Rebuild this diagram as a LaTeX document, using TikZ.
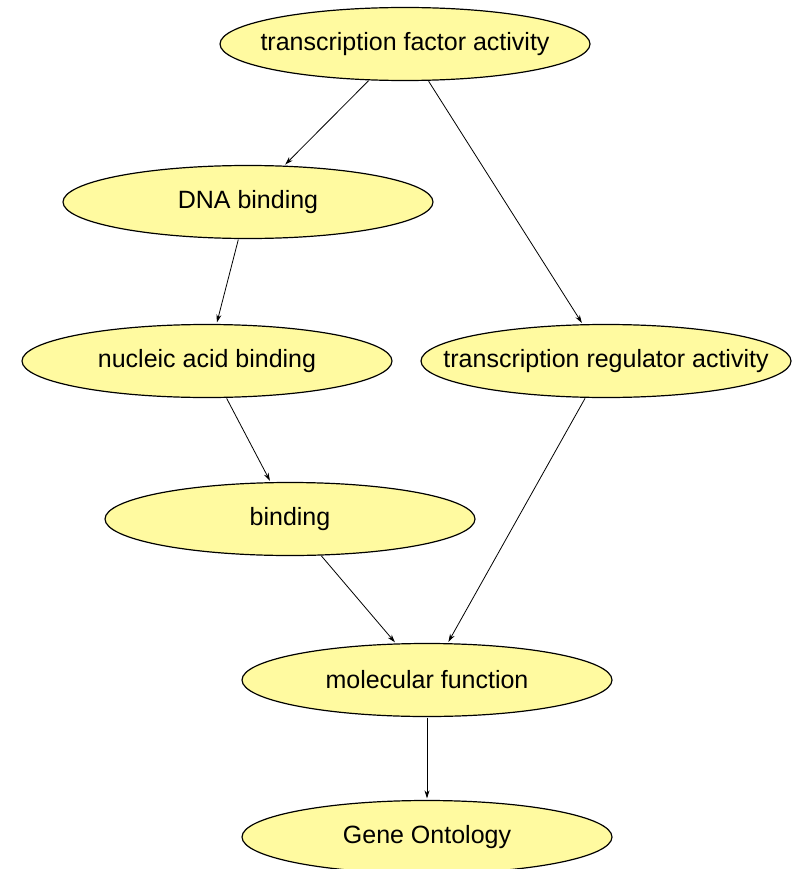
\documentclass[tikz,border=0pt]{standalone}
\usepackage{fontspec}
\setmainfont{Liberation Sans}
\usetikzlibrary{shapes.geometric,arrows.meta}
\definecolor{goyellow}{RGB}{255,250,160}
\newcommand{\golbl}[1]{\makebox[0pt]{#1}}
\tikzset{
  term/.style={ellipse, draw=black, line width=1.2pt, fill=goyellow,
    minimum width=370pt, minimum height=73pt, inner sep=0pt,
    font=\fontsize{25pt}{27pt}\selectfont},
  isa/.style={-{Stealth[length=8pt,width=5pt]}, line width=0.8pt, shorten >=1.5pt, shorten <=0.5pt}
}
\begin{document}
\begin{tikzpicture}[x=1pt,y=-1pt]
\useasboundingbox (0,0) rectangle (797,869);
\clip (0,0) rectangle (797,869);
\node[term] (tfa) at (405,44) {\golbl{transcription factor activity}};
\node[term] (dna) at (248,202) {\golbl{DNA binding}};
\node[term] (nab) at (207,361) {\golbl{nucleic acid binding}};
\node[term] (tra) at (606,361) {\golbl{transcription regulator activity}};
\node[term] (bind) at (290,519) {\golbl{binding}};
\node[term] (mf) at (427,680) {\golbl{molecular function}};
\node[term] (go) at (427,837) {\golbl{Gene Ontology}};
\draw[isa] (tfa) -- (dna);
\draw[isa] (tfa) -- (tra);
\draw[isa] (dna) -- (nab);
\draw[isa] (nab) -- (bind);
\draw[isa] (bind) -- (mf);
\draw[isa] (tra) -- (mf);
\draw[isa] (mf) -- (go);
\end{tikzpicture}
\end{document}
